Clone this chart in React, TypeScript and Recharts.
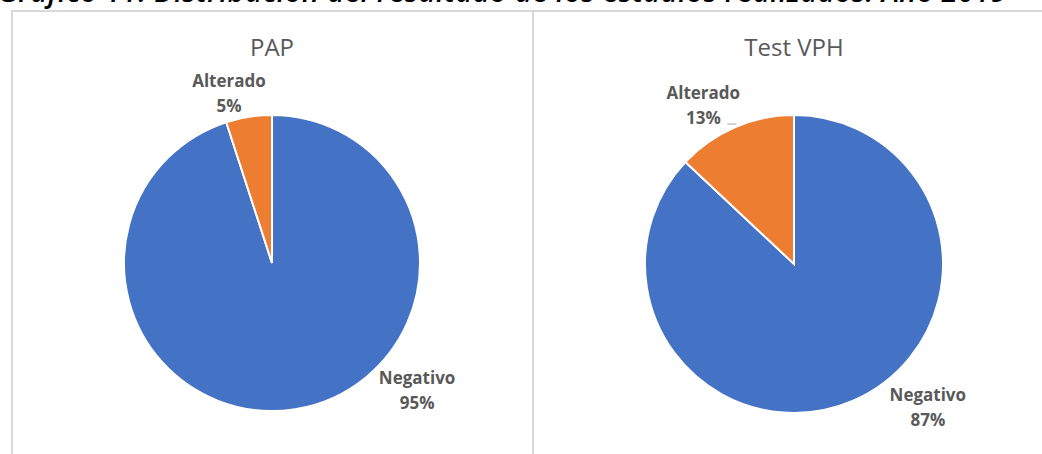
import { PieChart, Pie, Cell } from 'recharts'

// categorías y valores (%)
const categories = ['Negativo', 'Alterado']
const papValues = [95, 5]
const vphValues = [87, 13]
const chartTitles = ['PAP', 'Test VPH']

const COLORS = ['#4472C4', '#ED7D31']
const LABEL_COLOR = '#595959'
const BORDER = '#D9D9D9'
const FONT = '"Open Sans", "Noto Sans", sans-serif'

const papData = categories.map((name, i) => ({ name, value: papValues[i] }))
const vphData = categories.map((name, i) => ({ name, value: vphValues[i] }))

// colocación de etiquetas tipo "ajuste perfecto" de Excel: ángulo (grados) y factor de radio
const papPlacement = [
  { angle: -41.2, factor: 1.303, leader: false },
  { angle: 104.2, factor: 1.185, leader: false },
]
const vphPlacement = [
  { angle: -46.8, factor: 1.312, leader: false },
  { angle: 119.7, factor: 1.228, leader: true },
]

const RAD = Math.PI / 180

function makeLabel(placement: { angle: number; factor: number; leader: boolean }[]) {
  return (props: any) => {
    const { cx, cy, outerRadius, index, name, percent } = props
    const p = placement[index]
    const r = outerRadius * p.factor
    const x = cx + r * Math.cos(p.angle * RAD)
    const y = cy - r * Math.sin(p.angle * RAD)
    return (
      <g>
        <text
          x={x}
          y={y - 12.5}
          textAnchor="middle"
          dominantBaseline="central"
          fill={LABEL_COLOR}
          fontFamily={FONT}
          fontWeight="bold"
          fontSize={17}
        >
          {name}
        </text>
        <text
          x={x}
          y={y + 12.5}
          textAnchor="middle"
          dominantBaseline="central"
          fill={LABEL_COLOR}
          fontFamily={FONT}
          fontWeight="bold"
          fontSize={17}
        >
          {`${Math.round(percent * 100)}%`}
        </text>
        {p.leader && (
          <line x1={x + 24} y1={y + 19} x2={x + 33} y2={y + 19} stroke="#A6A6A6" strokeWidth={1} />
        )}
      </g>
    )
  }
}

export default function App() {
  return (
    <div
      style={{
        position: 'absolute',
        left: 0,
        top: 0,
        width: 1042,
        height: 454,
        overflow: 'hidden',
        background: '#fff',
      }}
    >
      <div
        style={{
          position: 'absolute',
          left: -2,
          top: -29,
          whiteSpace: 'nowrap',
          fontFamily: FONT,
          fontStyle: 'italic',
          fontWeight: 600,
          fontSize: 29,
          letterSpacing: 0.4,
          color: '#000',
        }}
      >
        Gráfico 11. Distribución del resultado de los estudios realizados. Año 2019
      </div>
      {/* bordes de los dos gráficos */}
      <div style={{ position: 'absolute', left: 11, top: 10, width: 1031, height: 2, background: BORDER }} />
      <div style={{ position: 'absolute', left: 11, top: 10, width: 2, height: 444, background: BORDER }} />
      <div style={{ position: 'absolute', left: 532, top: 10, width: 2, height: 444, background: BORDER }} />

      <div style={{ position: 'absolute', left: 0, top: 0 }}>
        <PieChart width={1042} height={454} margin={{ top: 0, right: 0, bottom: 0, left: 0 }}>
          <text x={272} y={46} textAnchor="middle" dominantBaseline="central" fill={LABEL_COLOR} fontFamily={FONT} fontSize={24}>
            {chartTitles[0]}
          </text>
          <text x={794} y={46} textAnchor="middle" dominantBaseline="central" fill={LABEL_COLOR} fontFamily={FONT} fontSize={24}>
            {chartTitles[1]}
          </text>
          <Pie
            data={papData}
            dataKey="value"
            nameKey="name"
            cx={272}
            cy={263}
            outerRadius={148}
            startAngle={90}
            endAngle={-270}
            stroke="#fff"
            strokeWidth={2}
            label={makeLabel(papPlacement)}
            labelLine={false}
            isAnimationActive={false}
          >
            {papData.map((d, i) => (
              <Cell key={d.name} fill={COLORS[i]} />
            ))}
          </Pie>
          <Pie
            data={vphData}
            dataKey="value"
            nameKey="name"
            cx={794}
            cy={264}
            outerRadius={149}
            startAngle={90}
            endAngle={-270}
            stroke="#fff"
            strokeWidth={2}
            label={makeLabel(vphPlacement)}
            labelLine={false}
            isAnimationActive={false}
          >
            {vphData.map((d, i) => (
              <Cell key={d.name} fill={COLORS[i]} />
            ))}
          </Pie>
        </PieChart>
      </div>
    </div>
  )
}
